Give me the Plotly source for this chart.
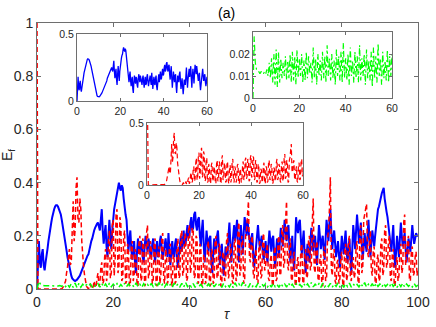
import numpy as np
import plotly.graph_objects as go

# ---- data (tau sampled every 0.25 from 0 to 100 for blue/red, 0.5 for green) ----
blue = [
    0.00, 0.12, 0.18, 0.10, 0.08, 0.13, 0.15, 0.09, 0.07, 0.10, 0.12, 0.15, 0.18, 0.21, 0.23, 0.25, 0.27, 0.29, 0.30, 0.31,
    0.315, 0.315, 0.31, 0.30, 0.29, 0.28, 0.26, 0.24, 0.22, 0.195, 0.17, 0.145, 0.12, 0.10, 0.08, 0.065, 0.05, 0.04, 0.035, 0.032,
    0.03, 0.032, 0.035, 0.04, 0.045, 0.05, 0.06, 0.07, 0.08, 0.09, 0.10, 0.11, 0.12, 0.125, 0.13, 0.15, 0.17, 0.18, 0.19, 0.21,
    0.22, 0.23, 0.24, 0.245, 0.25, 0.23, 0.22, 0.26, 0.30, 0.22, 0.17, 0.21, 0.24, 0.16, 0.12, 0.20, 0.26, 0.20, 0.15, 0.22,
    0.28, 0.30, 0.32, 0.34, 0.35, 0.38, 0.40, 0.38, 0.37, 0.39, 0.38, 0.34, 0.30, 0.28, 0.26, 0.20, 0.14, 0.19, 0.22, 0.15,
    0.11, 0.16, 0.18, 0.09, 0.06, 0.14, 0.19, 0.15, 0.13, 0.18, 0.17, 0.12, 0.10, 0.16, 0.20, 0.17, 0.14, 0.19, 0.17, 0.13,
    0.12, 0.17, 0.19, 0.14, 0.10, 0.15, 0.18, 0.12, 0.13, 0.18, 0.20, 0.15, 0.11, 0.14, 0.17, 0.19, 0.15, 0.12, 0.21, 0.16,
    0.09, 0.14, 0.18, 0.13, 0.12, 0.17, 0.19, 0.11, 0.08, 0.13, 0.16, 0.20, 0.14, 0.19, 0.22, 0.16, 0.17, 0.21, 0.24, 0.19,
    0.20, 0.25, 0.27, 0.22, 0.23, 0.28, 0.29, 0.24, 0.22, 0.26, 0.27, 0.20, 0.16, 0.22, 0.26, 0.17, 0.10, 0.16, 0.22, 0.18,
    0.14, 0.19, 0.20, 0.11, 0.06, 0.13, 0.19, 0.16, 0.14, 0.20, 0.22, 0.15, 0.09, 0.13, 0.17, 0.11, 0.05, 0.10, 0.16, 0.14,
    0.12, 0.20, 0.25, 0.17, 0.10, 0.16, 0.21, 0.24, 0.18, 0.22, 0.26, 0.17, 0.10, 0.18, 0.24, 0.19, 0.13, 0.21, 0.27, 0.24,
    0.20, 0.26, 0.23, 0.18, 0.15, 0.19, 0.21, 0.13, 0.08, 0.12, 0.17, 0.22, 0.24, 0.19, 0.15, 0.18, 0.20, 0.14, 0.11, 0.15,
    0.18, 0.13, 0.10, 0.17, 0.22, 0.18, 0.14, 0.19, 0.20, 0.13, 0.08, 0.14, 0.19, 0.16, 0.12, 0.18, 0.23, 0.20, 0.16, 0.21,
    0.26, 0.22, 0.18, 0.23, 0.24, 0.16, 0.10, 0.15, 0.20, 0.12, 0.07, 0.17, 0.27, 0.23, 0.21, 0.25, 0.26, 0.19, 0.13, 0.18,
    0.22, 0.13, 0.06, 0.12, 0.17, 0.14, 0.10, 0.17, 0.23, 0.19, 0.14, 0.18, 0.20, 0.14, 0.09, 0.17, 0.24, 0.20, 0.15, 0.18,
    0.20, 0.15, 0.11, 0.19, 0.26, 0.22, 0.18, 0.25, 0.30, 0.22, 0.15, 0.19, 0.22, 0.17, 0.12, 0.15, 0.18, 0.13, 0.08, 0.14,
    0.20, 0.16, 0.13, 0.18, 0.22, 0.15, 0.10, 0.15, 0.19, 0.12, 0.06, 0.15, 0.24, 0.20, 0.15, 0.22, 0.28, 0.23, 0.17, 0.21,
    0.25, 0.17, 0.11, 0.16, 0.21, 0.17, 0.14, 0.20, 0.26, 0.19, 0.12, 0.17, 0.22, 0.19, 0.16, 0.20, 0.24, 0.27, 0.30, 0.31,
    0.33, 0.35, 0.36, 0.37, 0.38, 0.34, 0.30, 0.29, 0.27, 0.23, 0.20, 0.16, 0.14, 0.19, 0.24, 0.15, 0.08, 0.14, 0.20, 0.16,
    0.12, 0.19, 0.25, 0.20, 0.16, 0.19, 0.21, 0.15, 0.10, 0.14, 0.19, 0.17, 0.14, 0.19, 0.24, 0.20, 0.17, 0.19, 0.21, 0.20,
    0.20,
]

red = [
    1.00, 0.00, 0.00, 0.00, 0.00, 0.00, 0.00, 0.00, 0.00, 0.00, 0.00, 0.00, 0.00, 0.00, 0.00, 0.00, 0.00, 0.00, 0.00, 0.00,
    0.00, 0.00, 0.00, 0.00, 0.00, 0.00, 0.00, 0.005, 0.01, 0.02, 0.03, 0.06, 0.08, 0.12, 0.15, 0.09, 0.10, 0.22, 0.33, 0.18,
    0.22, 0.38, 0.42, 0.26, 0.25, 0.34, 0.30, 0.18, 0.12, 0.08, 0.05, 0.02, 0.01, 0.005, 0.00, 0.01, 0.02, 0.005, 0.00, 0.01,
    0.03, 0.005, 0.01, 0.04, 0.06, 0.01, 0.02, 0.08, 0.10, 0.02, 0.03, 0.12, 0.15, 0.03, 0.05, 0.18, 0.22, 0.04, 0.06, 0.24,
    0.26, 0.05, 0.10, 0.28, 0.30, 0.06, 0.08, 0.27, 0.25, 0.03, 0.04, 0.20, 0.22, 0.02, 0.03, 0.17, 0.14, 0.01, 0.02, 0.16,
    0.18, 0.03, 0.05, 0.15, 0.12, 0.02, 0.01, 0.17, 0.20, 0.03, 0.04, 0.19, 0.17, 0.01, 0.02, 0.21, 0.24, 0.04, 0.06, 0.18,
    0.15, 0.02, 0.03, 0.17, 0.19, 0.03, 0.01, 0.14, 0.16, 0.02, 0.05, 0.19, 0.21, 0.04, 0.02, 0.15, 0.13, 0.02, 0.04, 0.16,
    0.17, 0.03, 0.01, 0.13, 0.11, 0.02, 0.03, 0.16, 0.19, 0.04, 0.05, 0.20, 0.22, 0.05, 0.07, 0.21, 0.20, 0.03, 0.04, 0.22,
    0.24, 0.06, 0.08, 0.23, 0.22, 0.04, 0.05, 0.20, 0.19, 0.02, 0.03, 0.17, 0.15, 0.01, 0.02, 0.13, 0.12, 0.02, 0.04, 0.16,
    0.18, 0.03, 0.01, 0.15, 0.14, 0.02, 0.03, 0.18, 0.20, 0.04, 0.05, 0.17, 0.16, 0.01, 0.02, 0.14, 0.13, 0.03, 0.04, 0.18,
    0.21, 0.04, 0.06, 0.17, 0.15, 0.03, 0.02, 0.17, 0.19, 0.03, 0.04, 0.22, 0.25, 0.05, 0.07, 0.20, 0.18, 0.02, 0.03, 0.20,
    0.22, 0.28, 0.33, 0.12, 0.10, 0.18, 0.20, 0.06, 0.04, 0.12, 0.15, 0.03, 0.02, 0.16, 0.18, 0.04, 0.05, 0.19, 0.21, 0.07,
    0.08, 0.15, 0.17, 0.04, 0.03, 0.11, 0.13, 0.02, 0.01, 0.14, 0.16, 0.03, 0.04, 0.18, 0.20, 0.05, 0.06, 0.22, 0.24, 0.08,
    0.10, 0.26, 0.33, 0.09, 0.07, 0.17, 0.19, 0.04, 0.03, 0.12, 0.14, 0.02, 0.01, 0.10, 0.12, 0.02, 0.04, 0.15, 0.17, 0.03,
    0.02, 0.13, 0.15, 0.04, 0.05, 0.18, 0.20, 0.07, 0.09, 0.25, 0.34, 0.08, 0.06, 0.16, 0.18, 0.04, 0.03, 0.11, 0.13, 0.02,
    0.01, 0.14, 0.16, 0.03, 0.04, 0.19, 0.22, 0.30, 0.42, 0.08, 0.05, 0.13, 0.15, 0.03, 0.02, 0.10, 0.11, 0.02, 0.04, 0.12,
    0.14, 0.02, 0.01, 0.15, 0.17, 0.03, 0.05, 0.18, 0.20, 0.04, 0.03, 0.10, 0.12, 0.04, 0.06, 0.16, 0.18, 0.03, 0.02, 0.21,
    0.24, 0.06, 0.08, 0.26, 0.29, 0.30, 0.32, 0.14, 0.12, 0.20, 0.22, 0.07, 0.05, 0.14, 0.16, 0.03, 0.02, 0.11, 0.13, 0.03,
    0.04, 0.17, 0.19, 0.05, 0.07, 0.22, 0.24, 0.08, 0.10, 0.18, 0.20, 0.04, 0.03, 0.13, 0.15, 0.02, 0.01, 0.10, 0.12, 0.03,
    0.05, 0.15, 0.17, 0.06, 0.08, 0.25, 0.28, 0.09, 0.11, 0.18, 0.20, 0.04, 0.03, 0.14, 0.16, 0.05, 0.06, 0.12, 0.14, 0.05,
    0.08,
]

green = [
    0.000, 0.028, 0.016, 0.013, 0.012, 0.012, 0.011, 0.012, 0.012, 0.011,
    0.012, 0.011, 0.013, 0.010, 0.016, 0.009, 0.018, 0.007, 0.020, 0.006,
    0.022, 0.005, 0.021, 0.007, 0.018, 0.009, 0.016, 0.010, 0.019, 0.008,
    0.017, 0.009, 0.020, 0.007, 0.021, 0.008, 0.019, 0.006, 0.022, 0.009,
    0.018, 0.010, 0.020, 0.007, 0.017, 0.008, 0.021, 0.009, 0.019, 0.011,
    0.016, 0.007, 0.023, 0.009, 0.018, 0.006, 0.020, 0.010, 0.017, 0.008,
    0.021, 0.009, 0.019, 0.007, 0.024, 0.010, 0.018, 0.008, 0.020, 0.009,
    0.017, 0.006, 0.022, 0.010, 0.019, 0.008, 0.021, 0.007, 0.025, 0.009,
    0.018, 0.008, 0.020, 0.006, 0.023, 0.010, 0.017, 0.007, 0.021, 0.009,
    0.019, 0.007, 0.024, 0.008, 0.018, 0.010, 0.020, 0.006, 0.022, 0.009,
    0.017, 0.008, 0.021, 0.005, 0.023, 0.009, 0.019, 0.007, 0.025, 0.010,
    0.018, 0.006, 0.021, 0.009, 0.017, 0.008, 0.022, 0.007, 0.019, 0.010,
    0.020, 0.008, 0.018, 0.007, 0.022, 0.009, 0.017, 0.006, 0.021, 0.010,
    0.019, 0.007, 0.023, 0.009, 0.018, 0.006, 0.020, 0.010, 0.017, 0.008,
    0.021, 0.009, 0.019, 0.007, 0.024, 0.008, 0.018, 0.010, 0.020, 0.006,
    0.022, 0.008, 0.017, 0.009, 0.021, 0.007, 0.019, 0.010, 0.023, 0.008,
    0.018, 0.006, 0.020, 0.009, 0.022, 0.007, 0.019, 0.010, 0.017, 0.008,
    0.021, 0.009, 0.024, 0.007, 0.018, 0.008, 0.020, 0.006, 0.022, 0.010,
    0.019, 0.007, 0.021, 0.009, 0.017, 0.008, 0.023, 0.010, 0.018, 0.006,
    0.020, 0.009, 0.022, 0.007, 0.019, 0.010, 0.017, 0.008, 0.021, 0.009,
    0.015,
]

tau_b = [i * 100 / (len(blue) - 1) for i in range(len(blue))]
tau_r = [i * 100 / (len(red) - 1) for i in range(len(red))]
tau_g = [i * 100 / (len(green) - 1) for i in range(len(green))]

main_xticks = [0, 20, 40, 60, 80, 100]
main_yticks = [0, 0.2, 0.4, 0.6, 0.8, 1]
inset_xticks = [0, 20, 40, 60]
inset_yticks_half = [0, 0.5]
inset_yticks_green = [0, 0.01, 0.02]

BLUE, RED, GREEN = "#0000ff", "#ff0000", "#00ff00"
AX = "#6e6e6e"
TXT = "#262626"
FONT = "Liberation Sans"
W, H = 436, 327

def px_dom_x(a, b):
    return [a / W, b / W]

def px_dom_y(top, bottom):
    return [1 - bottom / H, 1 - top / H]

fig = go.Figure()
# main
fig.add_trace(go.Scatter(x=tau_b, y=blue, mode="lines", line=dict(color=BLUE, width=2), xaxis="x", yaxis="y"))
fig.add_trace(go.Scatter(x=tau_r, y=red, mode="lines", line=dict(color=RED, width=1.5, dash="5px,3px"), xaxis="x", yaxis="y"))
fig.add_trace(go.Scatter(x=tau_g, y=green, mode="lines", line=dict(color=GREEN, width=1.5, dash="6px,3px,2px,3px"), xaxis="x", yaxis="y"))
# insets
fig.add_trace(go.Scatter(x=tau_b, y=blue, mode="lines", line=dict(color=BLUE, width=1.3), xaxis="x2", yaxis="y2"))
fig.add_trace(go.Scatter(x=tau_g, y=green, mode="lines", line=dict(color=GREEN, width=1.2, dash="6px,3px,2px,3px"), xaxis="x3", yaxis="y3"))
fig.add_trace(go.Scatter(x=tau_r, y=red, mode="lines", line=dict(color=RED, width=1.2, dash="5px,3px"), xaxis="x4", yaxis="y4"))

def axstyle(size, **kw):
    d = dict(showline=True, linecolor=AX, linewidth=1, mirror="ticks", ticks="inside",
             ticklen=3, tickcolor=AX, showgrid=False, zeroline=False, automargin=False,
             tickfont=dict(family=FONT, size=size, color=TXT), fixedrange=True)
    d.update(kw)
    return d

layout = dict(
    width=W, height=H, margin=dict(l=0, r=0, t=0, b=0, autoexpand=False),
    paper_bgcolor="white", plot_bgcolor="white", showlegend=False,
    xaxis=axstyle(14, domain=px_dom_x(37, 418), range=[0, 100], tickvals=main_xticks, anchor="y", ticklen=4),
    yaxis=axstyle(14, domain=px_dom_y(23, 289), range=[0, 1], tickvals=main_yticks,
                  ticktext=["0", "0.2", "0.4", "0.6", "0.8", "1"], anchor="x", ticklen=4),
    xaxis2=axstyle(10.5, domain=px_dom_x(77, 207), range=[0, 60], tickvals=inset_xticks, anchor="y2"),
    yaxis2=axstyle(10.5, domain=px_dom_y(34, 101), range=[0, 0.5], tickvals=inset_yticks_half, anchor="x2"),
    xaxis3=axstyle(10.5, domain=px_dom_x(253, 392), range=[0, 60], tickvals=inset_xticks, anchor="y3"),
    yaxis3=axstyle(10.5, domain=px_dom_y(32, 98), range=[0, 0.03], tickvals=inset_yticks_green,
                   ticktext=["0", "0.01", "0.02"], anchor="x3"),
    xaxis4=axstyle(10.5, domain=px_dom_x(147, 303), range=[0, 60], tickvals=inset_xticks, anchor="y4"),
    yaxis4=axstyle(10.5, domain=px_dom_y(123, 185), range=[0, 0.5], tickvals=inset_yticks_half, anchor="x4"),
    shapes=[
        dict(type="rect", xref="x2", yref="y2", x0=0, x1=60, y0=0, y1=0.5, fillcolor="white", line=dict(width=0), layer="below"),
        dict(type="rect", xref="x3", yref="y3", x0=0, x1=60, y0=0, y1=0.03, fillcolor="white", line=dict(width=0), layer="below"),
        dict(type="rect", xref="x4", yref="y4", x0=0, x1=60, y0=0, y1=0.5, fillcolor="white", line=dict(width=0), layer="below"),
    ],
    annotations=[
        dict(text="(a)", x=226 / W, y=1 - 13 / H, xref="paper", yref="paper", showarrow=False,
             font=dict(family=FONT, size=14, color="black"), xanchor="center", yanchor="middle"),
        dict(text="E<sub>f</sub>", x=8 / W, y=1 - 155 / H, xref="paper", yref="paper", showarrow=False,
             textangle=-90, font=dict(family=FONT, size=14, color=TXT), xanchor="center", yanchor="middle"),
        dict(text="<i>τ</i>", x=227 / W, y=1 - 314 / H, xref="paper", yref="paper", showarrow=False,
             font=dict(family=FONT, size=14, color=TXT), xanchor="center", yanchor="middle"),
    ],
)
fig.update_layout(**layout)
fig.write_html("out.html", config={"displayModeBar": False},
               post_script="document.body.style.margin='0';document.body.style.overflow='hidden';")
